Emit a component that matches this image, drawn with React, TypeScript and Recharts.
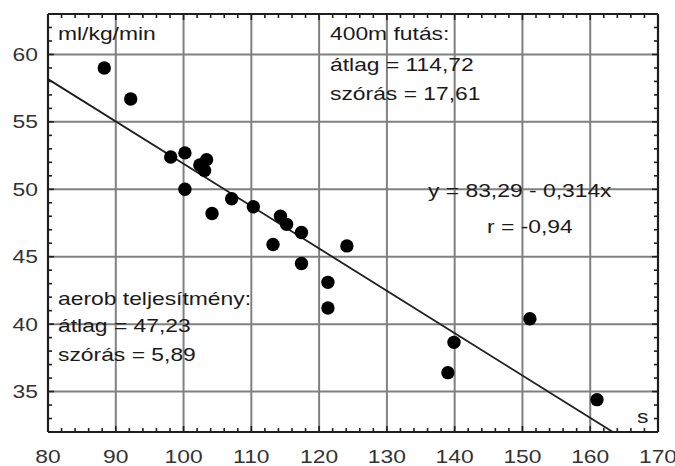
import React from "react";
import { ScatterChart, Scatter, XAxis, YAxis, ReferenceLine } from "recharts";

// 400 m running time (s)
const runTimes = [
  88.3, 92.2, 98.1, 100.2, 100.2, 102.4, 103.4, 103.1, 104.2, 107.1, 110.3, 114.3,
  115.2, 117.4, 113.2, 117.4, 121.3, 121.3, 124.1, 139.9, 139.0, 151.1, 161.0,
];
// aerobic performance (ml/kg/min)
const aerobValues = [
  59.0, 56.7, 52.4, 52.7, 50.0, 51.8, 52.2, 51.4, 48.2, 49.3, 48.7, 48.0,
  47.4, 46.8, 45.9, 44.5, 43.1, 41.2, 45.8, 38.65, 36.4, 40.4, 34.4,
];

const xTicks = [80, 90, 100, 110, 120, 130, 140, 150, 160, 170];
const yTicks = [35, 40, 45, 50, 55, 60];
const xMajorInner = [90, 100, 110, 120, 130, 140, 150, 160];
const xMinorTicks = [
  82, 84, 86, 88, 92, 94, 96, 98, 102, 104, 106, 108, 112, 114, 116, 118, 122, 124,
  126, 128, 132, 134, 136, 138, 142, 144, 146, 148, 152, 154, 156, 158, 162, 164, 166, 168,
];
const yMinorTicks = [
  33, 34, 36, 37, 38, 39, 41, 42, 43, 44, 46, 47, 48, 49, 51, 52, 53, 54, 56, 57, 58, 59, 61, 62,
];

const X_DOMAIN: [number, number] = [80, 170];
const Y_DOMAIN: [number, number] = [32, 63];

// regression: y = 83.29 - 0.314x
const regIntercept = 83.29;
const regSlope = -0.314;
const regStartX = 80;
const regEndY = 32;

const data = runTimes.map((x, i) => ({ x, y: aerobValues[i] }));

const FONT = '"Liberation Sans", Arial, Helvetica, sans-serif';
const SX = 1.27;
const FS = 18;
const DARK = "#1e1e1e";
const GRID = "#808080";

const XTick = (props: any) => {
  const { x, y, payload } = props;
  return (
    <g transform={`translate(${x},${y + 23})`}>
      <text transform={`scale(${SX},1)`} textAnchor="middle" fontFamily={FONT} fontSize={FS} fill="#333">
        {payload.value}
      </text>
    </g>
  );
};

const YTick = (props: any) => {
  const { x, y, payload } = props;
  return (
    <g transform={`translate(${x - 2},${y + 6.5})`}>
      <text transform={`scale(${SX},1)`} textAnchor="end" fontFamily={FONT} fontSize={FS} fill="#333">
        {payload.value}
      </text>
    </g>
  );
};

const vShape = (len: number) => (p: any) => {
  const top = Math.min(p.y1, p.y2);
  const bot = Math.max(p.y1, p.y2);
  return (
    <g>
      <line x1={p.x1} x2={p.x1} y1={top} y2={top + len} stroke={DARK} strokeWidth={1.6} />
      <line x1={p.x1} x2={p.x1} y1={bot - len} y2={bot} stroke={DARK} strokeWidth={1.6} />
    </g>
  );
};

const hShape = (len: number) => (p: any) => {
  const left = Math.min(p.x1, p.x2);
  const right = Math.max(p.x1, p.x2);
  return (
    <g>
      <line x1={left} x2={left + len} y1={p.y1} y2={p.y1} stroke={DARK} strokeWidth={1.6} />
      <line x1={right - len} x2={right} y1={p.y1} y2={p.y1} stroke={DARK} strokeWidth={1.6} />
    </g>
  );
};

const Dot = (p: any) => <circle cx={p.cx} cy={p.cy} r={6.7} fill="#000" />;

const Txt = ({ x, y, children }: { x: number; y: number; children: React.ReactNode }) => (
  <g transform={`translate(${x},${y})`}>
    <text transform={`scale(${SX},1)`} fontFamily={FONT} fontSize={FS} fill="#1a1a1a">
      {children}
    </text>
  </g>
);

export default function App() {
  const regEndX = (regEndY - regIntercept) / regSlope;
  const regStartY = regIntercept + regSlope * regStartX;
  return (
    <div style={{ position: "fixed", left: 0, top: 0, width: 675, height: 466, background: "#fff" }}>
      <ScatterChart width={675} height={466} margin={{ top: 14, right: 17, left: 0, bottom: 0 }}>
        <XAxis
          type="number"
          dataKey="x"
          domain={X_DOMAIN}
          ticks={xTicks}
          allowDataOverflow
          axisLine={false}
          tickLine={false}
          height={34}
          tick={<XTick />}
        />
        <YAxis
          type="number"
          dataKey="y"
          domain={Y_DOMAIN}
          ticks={yTicks}
          allowDataOverflow
          axisLine={false}
          tickLine={false}
          width={48}
          tick={<YTick />}
        />
        {xMajorInner.map((v) => (
          <ReferenceLine key={`xg${v}`} x={v} stroke={GRID} strokeWidth={2} />
        ))}
        {yTicks.map((v) => (
          <ReferenceLine
            key={`yg${v}`}
            segment={[
              { x: X_DOMAIN[0], y: v },
              { x: X_DOMAIN[1], y: v },
            ]}
            stroke={GRID}
            strokeWidth={2}
          />
        ))}
        {xMajorInner.map((v) => (
          <ReferenceLine key={`xM${v}`} x={v} stroke="none" shape={vShape(6)} />
        ))}
        {yTicks.map((v) => (
          <ReferenceLine key={`yM${v}`} y={v} stroke="none" shape={hShape(6)} />
        ))}
        {xMinorTicks.map((v) => (
          <ReferenceLine key={`xm${v}`} x={v} stroke="none" shape={vShape(4)} />
        ))}
        {yMinorTicks.map((v) => (
          <ReferenceLine key={`ym${v}`} y={v} stroke="none" shape={hShape(4)} />
        ))}
        <ReferenceLine
          segment={[
            { x: regStartX, y: regStartY },
            { x: regEndX, y: regEndY },
          ]}
          stroke={DARK}
          strokeWidth={1.8}
        />
        <ReferenceLine x={X_DOMAIN[0]} stroke={DARK} strokeWidth={2.2} />
        <ReferenceLine x={X_DOMAIN[1]} stroke={DARK} strokeWidth={2.2} />
        <ReferenceLine y={Y_DOMAIN[0]} stroke={DARK} strokeWidth={2.2} />
        <ReferenceLine y={Y_DOMAIN[1]} stroke={DARK} strokeWidth={2.2} />
        <Scatter data={data} shape={<Dot />} isAnimationActive={false} />
      </ScatterChart>
      <svg width={675} height={466} style={{ position: "absolute", left: 0, top: 0, pointerEvents: "none" }}>
        <Txt x={58} y={40}>ml/kg/min</Txt>
        <Txt x={330} y={40}>400m futás:</Txt>
        <Txt x={330} y={71}>átlag = 114,72</Txt>
        <Txt x={330} y={100}>szórás = 17,61</Txt>
        <Txt x={428} y={197}>y = 83,29 - 0,314x</Txt>
        <Txt x={487} y={233}>r = -0,94</Txt>
        <Txt x={58} y={305}>aerob teljesítmény:</Txt>
        <Txt x={58} y={332}>átlag = 47,23</Txt>
        <Txt x={58} y={361}>szórás = 5,89</Txt>
        <Txt x={637} y={423}>s</Txt>
      </svg>
    </div>
  );
}
